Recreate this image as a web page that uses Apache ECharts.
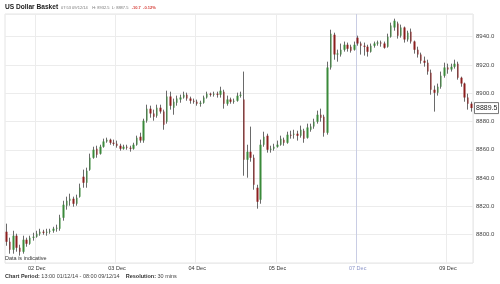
<!DOCTYPE html>
<html>
<head>
<meta charset="utf-8">
<script src="https://cdn.jsdelivr.net/npm/echarts@6/dist/echarts.min.js"></script>
<style>
html,body{margin:0;padding:0;background:#fff;}
#chart{width:500px;height:284px;}
</style>
</head>
<body>
<div id="chart"></div>
<script>
// Hourly sessions (day/month, first hour, last hour)
const sessions = [
  ['01/12', 15, 23], ['02/12', 0, 23], ['03/12', 0, 23], ['04/12', 0, 23],
  ['05/12', 0, 23], ['07/12', 21, 23], ['08/12', 0, 23], ['09/12', 0, 7]
];
const labelTimes = ['02/12 00:00', '03/12 00:00', '04/12 00:00', '05/12 00:00', '07/12 21:00', '09/12 00:00'];
const labelTexts = ['02 Dec', '03 Dec', '04 Dec', '05 Dec', '07 Dec', '09 Dec'];
const weekendLabel = '07 Dec';
const yTicks = [8800, 8820, 8840, 8860, 8880, 8900, 8920, 8940];

const opens = [
  8802.1, 8795.1, 8789.4, 8799.3, 8790.8, 8788.0, 8796.5, 8793.6, 8797.9, 8798.6,
  8800.7, 8802.1, 8801.4, 8802.1, 8802.8, 8804.2, 8804.2, 8812.0, 8820.5, 8824.0,
  8825.5, 8821.9, 8826.9, 8841.0, 8836.8, 8846.0, 8854.4, 8860.8, 8857.3, 8862.2,
  8865.8, 8867.2, 8865.0, 8864.3, 8862.9, 8860.8, 8862.2, 8861.5, 8860.8, 8863.6,
  8869.3, 8866.5, 8880.6, 8889.1, 8885.6, 8884.1, 8889.8, 8887.0, 8879.9, 8897.6,
  8889.8, 8893.3, 8895.5, 8896.9, 8899.0, 8896.2, 8894.7, 8894.0, 8892.6, 8893.3,
  8896.9, 8899.7, 8899.0, 8899.7, 8899.0, 8901.1, 8892.6, 8895.5, 8894.0, 8894.7,
  8898.3, 8895.5, 8853.0, 8858.7, 8854.4, 8833.2, 8824.7, 8863.6, 8870.0, 8860.1,
  8860.8, 8862.2, 8863.6, 8867.2, 8865.0, 8870.7, 8870.7, 8871.4, 8870.0, 8873.5,
  8868.6, 8874.2, 8876.4, 8879.9, 8884.8, 8883.4, 8872.1, 8918.1, 8941.4, 8927.3,
  8927.3, 8930.8, 8934.3, 8932.9, 8930.8, 8939.3, 8935.1, 8933.6, 8932.9, 8929.4,
  8933.6, 8935.1, 8935.8, 8935.1, 8932.9, 8940.0, 8946.4, 8949.2, 8940.7, 8946.4,
  8937.9, 8943.5, 8936.5, 8930.8, 8927.3, 8923.0, 8921.6, 8914.5, 8902.5, 8900.4,
  8904.6, 8912.4, 8918.1, 8916.7, 8918.8, 8920.9, 8911.0, 8906.8, 8896.9, 8892.6
];
const closes = [
  8795.1, 8789.4, 8799.3, 8790.8, 8788.0, 8796.5, 8793.6, 8797.9, 8798.6, 8800.7,
  8802.1, 8801.4, 8802.1, 8802.8, 8804.2, 8804.9, 8812.0, 8821.2, 8824.0, 8825.5,
  8821.9, 8826.2, 8833.2, 8836.8, 8845.2, 8854.4, 8860.1, 8856.6, 8862.2, 8865.8,
  8867.2, 8865.0, 8864.3, 8862.9, 8860.8, 8862.2, 8861.5, 8860.8, 8863.6, 8868.6,
  8866.5, 8880.6, 8889.1, 8885.6, 8883.4, 8889.8, 8887.0, 8877.8, 8897.6, 8891.2,
  8894.0, 8896.2, 8896.9, 8899.0, 8896.2, 8894.7, 8894.0, 8892.6, 8893.3, 8896.9,
  8899.7, 8899.0, 8899.7, 8899.0, 8901.8, 8892.6, 8895.5, 8894.0, 8894.7, 8898.3,
  8899.0, 8853.0, 8858.7, 8854.4, 8835.3, 8823.3, 8863.6, 8869.3, 8860.1, 8860.8,
  8862.2, 8863.6, 8867.9, 8865.0, 8870.7, 8870.0, 8871.4, 8870.0, 8874.2, 8867.9,
  8875.7, 8876.4, 8879.9, 8884.8, 8882.7, 8872.1, 8918.1, 8942.1, 8927.3, 8928.0,
  8930.8, 8934.3, 8931.5, 8930.1, 8934.3, 8935.1, 8933.6, 8932.9, 8929.4, 8933.6,
  8935.1, 8935.8, 8935.1, 8932.2, 8940.0, 8947.8, 8951.3, 8940.7, 8946.4, 8937.9,
  8942.8, 8936.5, 8930.8, 8927.3, 8923.0, 8921.6, 8915.3, 8902.5, 8900.4, 8904.6,
  8912.4, 8918.1, 8916.7, 8918.8, 8920.9, 8911.0, 8906.8, 8896.9, 8892.6, 8889.5
];
const lows = [
  8792.2, 8786.6, 8786.6, 8788.0, 8785.2, 8786.6, 8791.5, 8792.9, 8795.8, 8797.9,
  8799.3, 8800.0, 8799.3, 8800.7, 8801.4, 8802.1, 8802.8, 8809.9, 8817.7, 8820.5,
  8819.8, 8820.5, 8826.2, 8833.2, 8833.2, 8845.2, 8853.7, 8854.4, 8856.6, 8861.5,
  8865.0, 8863.6, 8862.9, 8861.5, 8859.4, 8860.1, 8860.1, 8858.7, 8860.1, 8862.9,
  8865.0, 8865.0, 8879.2, 8882.7, 8880.6, 8882.7, 8885.6, 8874.2, 8878.5, 8888.4,
  8884.8, 8891.2, 8893.3, 8896.2, 8894.7, 8892.6, 8892.6, 8891.2, 8890.5, 8892.6,
  8896.2, 8897.6, 8897.6, 8896.9, 8896.9, 8889.1, 8891.2, 8892.6, 8892.6, 8894.0,
  8896.9, 8841.7, 8840.3, 8851.6, 8831.8, 8818.4, 8821.9, 8862.2, 8858.0, 8858.0,
  8859.4, 8861.5, 8862.9, 8862.9, 8864.3, 8867.9, 8867.9, 8866.5, 8868.6, 8865.0,
  8867.9, 8872.8, 8874.9, 8878.5, 8879.9, 8869.3, 8870.7, 8916.7, 8923.7, 8922.3,
  8925.9, 8929.4, 8929.4, 8928.7, 8930.1, 8933.6, 8927.3, 8926.6, 8925.9, 8928.7,
  8932.2, 8933.6, 8932.9, 8931.5, 8932.2, 8939.3, 8944.2, 8938.6, 8939.3, 8935.8,
  8936.5, 8935.1, 8928.0, 8925.2, 8920.9, 8918.8, 8913.1, 8899.0, 8887.0, 8898.3,
  8903.2, 8911.0, 8913.8, 8915.3, 8917.4, 8909.6, 8904.6, 8894.0, 8888.4, 8887.0
];
const highs = [
  8807.8, 8797.9, 8802.8, 8800.7, 8792.9, 8799.3, 8797.9, 8799.3, 8801.4, 8802.8,
  8804.2, 8803.5, 8804.2, 8804.2, 8805.6, 8807.1, 8814.1, 8824.0, 8826.9, 8829.0,
  8826.9, 8828.3, 8836.1, 8846.0, 8847.4, 8857.3, 8862.2, 8862.9, 8863.6, 8867.9,
  8868.6, 8867.9, 8867.2, 8866.5, 8864.3, 8863.6, 8863.6, 8862.9, 8865.0, 8870.0,
  8872.1, 8882.0, 8891.9, 8891.2, 8888.4, 8891.9, 8891.9, 8888.4, 8901.8, 8901.1,
  8896.2, 8898.3, 8899.0, 8901.1, 8900.4, 8897.6, 8896.2, 8895.5, 8894.7, 8898.3,
  8901.1, 8900.4, 8901.1, 8901.1, 8904.6, 8902.5, 8898.3, 8896.9, 8896.2, 8900.4,
  8901.1, 8915.3, 8863.6, 8876.4, 8856.6, 8835.3, 8867.2, 8872.8, 8871.4, 8862.9,
  8864.3, 8866.5, 8870.0, 8868.6, 8872.8, 8873.5, 8874.2, 8873.5, 8877.1, 8874.9,
  8878.5, 8878.5, 8882.0, 8887.7, 8889.1, 8884.8, 8922.3, 8944.9, 8942.8, 8930.8,
  8935.1, 8936.5, 8935.8, 8934.3, 8936.5, 8940.7, 8936.5, 8935.8, 8934.3, 8935.1,
  8936.5, 8937.2, 8937.2, 8936.5, 8942.1, 8949.9, 8952.7, 8950.6, 8948.5, 8947.1,
  8944.2, 8945.7, 8937.2, 8932.9, 8928.7, 8925.9, 8923.7, 8916.7, 8905.4, 8906.8,
  8915.3, 8921.6, 8920.9, 8920.9, 8923.7, 8922.3, 8911.7, 8907.5, 8899.7, 8894.0
];

const categories = [];
sessions.forEach(([d, h0, h1]) => {
  for (let h = h0; h <= h1; h++) categories.push(d + ' ' + String(h).padStart(2, '0') + ':00');
});
const ohlc = opens.map((o, i) => [o, closes[i], lows[i], highs[i]]);
const labelMap = {};
labelTimes.forEach((t, k) => { labelMap[t] = labelTexts[k]; });
const tickIdx = categories.map((c, i) => (labelMap[c] ? i : -1)).filter(i => i >= 0);
const lastClose = closes[closes.length - 1];
const FONT = 'Liberation Sans, Arial, sans-serif';

function textGraphics(py) {
  const g = [
    { type: 'text', left: 5, top: 4, style: { text: 'US Dollar Basket', font: 'bold 6.6px ' + FONT, fill: '#222' } },
    {
      type: 'text', left: 61, top: 5.5,
      style: {
        text: '07:53 09/12/14    H: 8932.5  L: 8887.5   {r|-10.7  -0.12%}',
        font: '4px ' + FONT, fill: '#777',
        rich: { r: { fontSize: 4, fontWeight: 'bold', fontFamily: FONT, fill: '#d43a34' } }
      }
    },
    { type: 'text', left: 5, top: 255, style: { text: 'Data is indicative', font: '5.5px ' + FONT, fill: '#333' } },
    {
      type: 'text', left: 5, top: 273,
      style: {
        text: '{b|Chart Period:} 13:00 01/12/14 - 08:00 09/12/14    {b|Resolution:} 30 mins',
        font: '5.5px ' + FONT, fill: '#444',
        rich: { b: { fontWeight: 'bold', fontSize: 5.5, fontFamily: FONT, fill: '#333' } }
      }
    }
  ];
  if (py != null) {
    g.push({
      type: 'rect', x: 474.5, y: py - 5.5,
      shape: { x: 0, y: 0, width: 24, height: 11 },
      style: { fill: '#fff', stroke: '#555', lineWidth: 0.8 }, z: 50
    });
    g.push({
      type: 'text', x: 476, y: py,
      style: { text: lastClose.toFixed(1), font: '7px ' + FONT, fill: '#222', verticalAlign: 'middle' }, z: 51
    });
  }
  return g;
}

const chart = echarts.init(document.getElementById('chart'), null, { renderer: 'canvas' });
chart.setOption({
  animation: false,
  backgroundColor: '#fff',
  textStyle: { fontFamily: FONT },
  grid: { left: 5, right: 27, top: 14, bottom: 21, show: true, borderColor: '#e4e4e4', borderWidth: 1 },
  xAxis: {
    type: 'category',
    data: categories,
    boundaryGap: true,
    axisLine: { show: false },
    axisTick: { show: false },
    axisLabel: {
      interval: (i) => tickIdx.includes(i),
      formatter: (v) => labelMap[v] || '',
      fontSize: 5.5,
      margin: 2,
      fontFamily: FONT,
      color: (v) => (labelMap[v] === weekendLabel ? '#8c95c8' : '#333')
    },
    splitLine: {
      show: true,
      interval: (i) => tickIdx.includes(i),
      lineStyle: { color: labelTexts.map(t => (t === weekendLabel ? '#c9cde4' : '#ececec')), width: 1 }
    }
  },
  yAxis: {
    type: 'value',
    position: 'right',
    min: 8780,
    max: 8956,
    interval: 20,
    axisLine: { show: false },
    axisTick: { show: false },
    splitLine: { lineStyle: { color: '#ececec', width: 1 } },
    axisLabel: {
      showMinLabel: false,
      showMaxLabel: false,
      fontSize: 6,
      margin: 3,
      color: '#444',
      fontFamily: FONT,
      formatter: (v) => (yTicks.includes(v) ? v.toFixed(1) : '')
    }
  },
  series: [
    {
      name: 'wicks',
      type: 'candlestick',
      data: ohlc,
      barWidth: 1,
      silent: true,
      itemStyle: { color: '#6a6a6a', color0: '#6a6a6a', borderColor: '#6a6a6a', borderColor0: '#6a6a6a', borderWidth: 1 }
    },
    {
      name: 'US Dollar Basket',
      type: 'candlestick',
      data: ohlc,
      barWidth: 2,
      silent: true,
      itemStyle: { color: '#3a8a3a', color0: '#8b1e1e', borderColor: '#3a8a3a', borderColor0: '#8b1e1e', borderWidth: 0 }
    }
  ],
  graphic: textGraphics(null)
});

// Current-price box placed through the y axis scale
const py = chart.convertToPixel({ yAxisIndex: 0 }, lastClose);
chart.setOption({ graphic: textGraphics(py) }, { replaceMerge: ['graphic'] });
</script>
</body>
</html>
